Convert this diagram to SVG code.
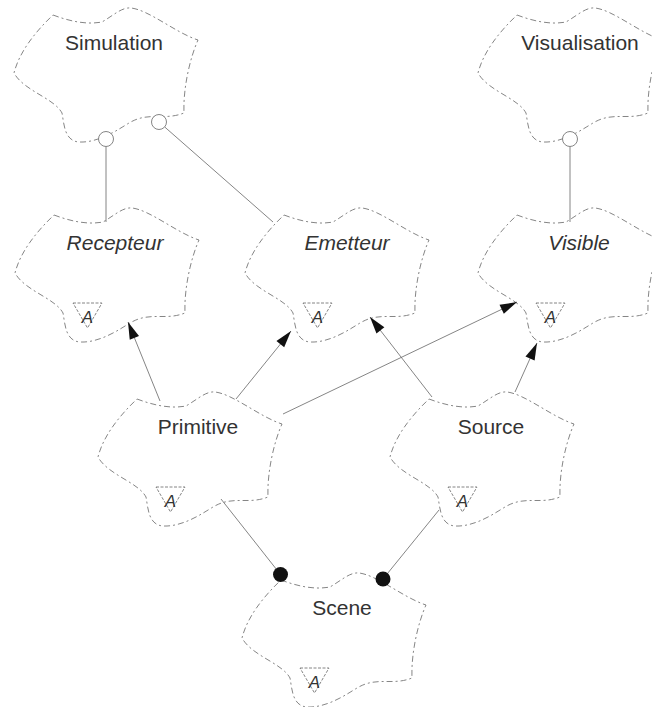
<svg xmlns="http://www.w3.org/2000/svg" width="652" height="707" viewBox="0 0 652 707">
<style>
.name{font-family:"Liberation Sans",Arial,sans-serif;font-size:21px;fill:#333;text-anchor:middle}
.abs{font-style:italic}
.conn{stroke:#666;stroke-width:0.8;fill:none}
.iface{fill:#fff;stroke:#777;stroke-width:0.9}
.dot{fill:#111;stroke:none}
</style>
<defs>
<path id="cloudShape" fill="none" stroke="#777" stroke-width="0.9" stroke-dasharray="6 3 2 3" d="M -61,-28 C -45,-22 -28,-18 -12,-21 C 0,-28 8,-36 17,-35 C 35,-33 62,-10 84,-3 C 76,15 69,45 70,70 C 50,78 35,68 15,80 C 5,86 -15,100 -35,99 C -50,98 -50,80 -52,70 C -60,55 -90,48 -100,30 C -95,10 -80,-10 -61,-28 Z"/>
<g id="absAdorn">
<polygon points="-42,60 -13,60 -27.5,85" fill="none" stroke="#666" stroke-width="0.8" stroke-dasharray="3 1.5"/>
<text x="-27.5" y="80" font-family="Liberation Sans, Arial, sans-serif" font-size="17" font-style="italic" fill="#333" text-anchor="middle">A</text>
</g>
<marker id="arrow" viewBox="-20 -8 22 16" refX="0" refY="0" markerWidth="22" markerHeight="16" markerUnits="userSpaceOnUse" orient="auto">
<path d="M0,0 L-17,-5 L-17,5 Z" fill="#111"/>
</marker>
</defs>

<g id="simulation">
<use href="#cloudShape" transform="translate(114,43)"/>
<text x="114" y="50" class="name">Simulation</text>
</g>
<g id="visualisation">
<use href="#cloudShape" transform="translate(578,43)"/>
<text x="580" y="50" class="name">Visualisation</text>
</g>
<g id="recepteur">
<use href="#cloudShape" transform="translate(115,243)"/>
<text x="115" y="250" class="name abs">Recepteur</text>
<use href="#absAdorn" transform="translate(115,243)"/>
</g>
<g id="emetteur">
<use href="#cloudShape" transform="translate(345,243)"/>
<text x="347" y="250" class="name abs">Emetteur</text>
<use href="#absAdorn" transform="translate(345,243)"/>
</g>
<g id="visible">
<use href="#cloudShape" transform="translate(578,243)"/>
<text x="579" y="250" class="name abs">Visible</text>
<use href="#absAdorn" transform="translate(578,243)"/>
</g>
<g id="primitive">
<use href="#cloudShape" transform="translate(198,427)"/>
<text x="198" y="434" class="name">Primitive</text>
<use href="#absAdorn" transform="translate(198,427)"/>
</g>
<g id="source">
<use href="#cloudShape" transform="translate(490,427)"/>
<text x="491" y="434" class="name">Source</text>
<use href="#absAdorn" transform="translate(490,427)"/>
</g>
<g id="scene">
<use href="#cloudShape" transform="translate(342,608)"/>
<text x="342" y="615" class="name">Scene</text>
<use href="#absAdorn" transform="translate(342,608)"/>
</g>

<g id="connectors">
<line class="conn" x1="106" y1="146.5" x2="106" y2="222"/>
<circle class="iface" cx="106" cy="139" r="7.5"/>
<line class="conn" x1="164.6" y1="126.9" x2="273" y2="222"/>
<circle class="iface" cx="159" cy="122" r="7.5"/>
<line class="conn" x1="570" y1="146.5" x2="570" y2="222"/>
<circle class="iface" cx="570" cy="139" r="7.5"/>

<line class="conn" x1="160" y1="401" x2="128" y2="322" marker-end="url(#arrow)"/>
<line class="conn" x1="236" y1="399" x2="291" y2="331" marker-end="url(#arrow)"/>
<line class="conn" x1="283" y1="414" x2="517" y2="302" marker-end="url(#arrow)"/>
<line class="conn" x1="432" y1="397" x2="370" y2="317" marker-end="url(#arrow)"/>
<line class="conn" x1="515" y1="392" x2="537" y2="343" marker-end="url(#arrow)"/>

<line class="conn" x1="221" y1="499" x2="280.5" y2="574.5"/>
<circle class="dot" cx="280.5" cy="574.5" r="7.5"/>
<line class="conn" x1="439" y1="510" x2="383" y2="579"/>
<circle class="dot" cx="383" cy="579" r="7.5"/>
</g>
</svg>
